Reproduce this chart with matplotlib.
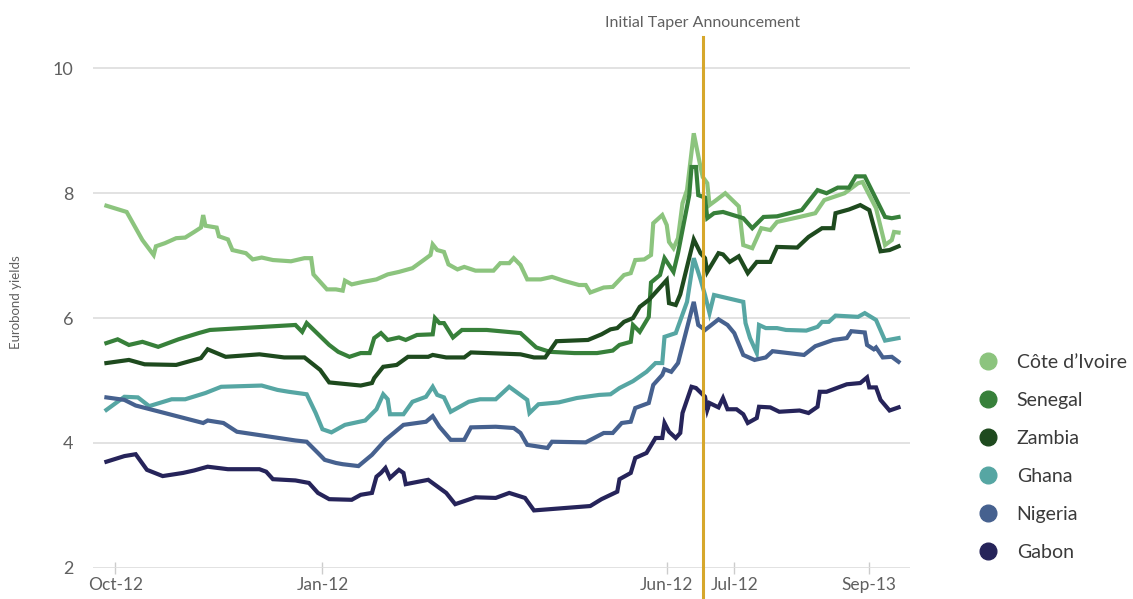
import numpy as np
import pandas as pd
import matplotlib
matplotlib.use('Agg')
import matplotlib.pyplot as plt
from matplotlib.lines import Line2D

plt.rcParams['font.family'] = ['Lato', 'DejaVu Sans']

start = pd.Timestamp('2012-10-01')   # days below are counted from here
taper_day = pd.Timestamp('2013-06-19')

tick_dates = ['2012-10-01', '2013-01-01', '2013-06-03', '2013-07-03', '2013-09-01']
tick_labels = ['Oct-12', 'Jan-12', 'Jun-12', 'Jul-12', 'Sep-13']

countries = ["Côte d’Ivoire", 'Senegal', 'Zambia', 'Ghana', 'Nigeria', 'Gabon']
colors = ['#8cc47e', '#37803a', '#1e4a1e', '#56a6a3', '#46618f', '#26245a']

# Eurobond yields (%) per country: day offsets and values
cote_days = [-4, 5, 12, 17, 18, 22, 27, 31, 35, 38, 39, 40, 45, 46, 50, 52, 58, 61, 65, 70,
             78, 84, 87, 88, 94, 98, 101, 102, 105, 110, 116, 121, 126, 132, 137, 140, 141,
             143, 146, 148, 152, 155, 160, 168, 171, 175, 177, 180, 183, 189, 194, 199, 206,
             209, 211, 214, 217, 221, 226, 229, 231, 235, 238, 239, 243, 245, 246, 248, 250,
             252, 254, 257, 260, 261, 263, 264, 267, 271, 277, 279, 283, 287, 291, 294, 304,
             311, 315, 324, 330, 332, 338, 342, 345, 346, 348]
cote_vals = [7.80, 7.70, 7.25, 7.01, 7.15, 7.20, 7.28, 7.29, 7.38, 7.45, 7.65, 7.48, 7.45, 7.31,
             7.26, 7.09, 7.04, 6.94, 6.97, 6.93, 6.91, 6.96, 6.96, 6.70, 6.46, 6.46, 6.44, 6.60,
             6.54, 6.58, 6.62, 6.70, 6.74, 6.80, 6.93, 7.01, 7.18, 7.09, 7.06, 6.86, 6.78, 6.82,
             6.76, 6.76, 6.88, 6.88, 6.96, 6.85, 6.62, 6.62, 6.66, 6.60, 6.53, 6.53, 6.41, 6.45,
             6.49, 6.50, 6.69, 6.72, 6.93, 6.94, 7.01, 7.52, 7.65, 7.49, 7.22, 7.12, 7.28, 7.84,
             8.05, 8.96, 8.42, 8.26, 8.16, 7.81, 7.89, 8.00, 7.79, 7.17, 7.12, 7.44, 7.41, 7.54,
             7.62, 7.68, 7.89, 8.00, 8.16, 8.18, 7.76, 7.17, 7.25, 7.38, 7.37]

senegal_days = [-4, 1, 6, 12, 19, 28, 37, 42, 80, 83, 85, 95, 99, 104, 109, 113, 115, 118,
                121, 126, 129, 134, 141, 142, 144, 146, 150, 154, 165, 180, 187, 193, 204, 214,
                221, 224, 229, 230, 233, 237, 238, 242, 244, 248, 250, 255, 256, 258, 259, 262,
                263, 266, 270, 279, 283, 288, 294, 305, 312, 316, 321, 326, 329, 333, 342, 345,
                348]
senegal_vals = [5.60, 5.66, 5.57, 5.62, 5.54, 5.66, 5.76, 5.81, 5.89, 5.78, 5.92, 5.57, 5.46,
                5.38, 5.44, 5.44, 5.68, 5.76, 5.65, 5.69, 5.65, 5.73, 5.74, 6.00, 5.92, 5.92,
                5.69, 5.81, 5.81, 5.76, 5.53, 5.46, 5.44, 5.44, 5.48, 5.57, 5.62, 5.89, 5.78,
                6.02, 6.57, 6.69, 6.96, 6.74, 7.04, 7.97, 8.42, 8.42, 7.97, 7.93, 7.60, 7.68,
                7.70, 7.60, 7.44, 7.62, 7.63, 7.73, 8.05, 8.00, 8.09, 8.09, 8.27, 8.27, 7.62,
                7.60, 7.62]

zambia_days = [-4, 6, 13, 27, 38, 41, 49, 64, 75, 84, 91, 95, 109, 114, 115, 119, 125, 130,
               139, 141, 147, 155, 158, 180, 186, 191, 196, 210, 216, 220, 223, 226, 230, 233,
               237, 245, 246, 249, 251, 257, 260, 262, 263, 268, 270, 273, 277, 281, 285, 291,
               294, 303, 308, 314, 319, 320, 326, 331, 335, 340, 344, 348]
zambia_vals = [5.28, 5.33, 5.26, 5.25, 5.36, 5.50, 5.38, 5.42, 5.37, 5.37, 5.17, 4.97, 4.92,
               4.96, 5.04, 5.22, 5.25, 5.38, 5.38, 5.41, 5.37, 5.37, 5.45, 5.42, 5.37, 5.37,
               5.63, 5.65, 5.74, 5.82, 5.84, 5.94, 6.00, 6.18, 6.29, 6.61, 6.24, 6.21, 6.38,
               7.26, 7.04, 6.96, 6.74, 7.04, 7.02, 6.90, 6.99, 6.72, 6.90, 6.90, 7.14, 7.13,
               7.30, 7.44, 7.44, 7.68, 7.74, 7.81, 7.73, 7.07, 7.09, 7.15]

ghana_days = [-4, 4, 10, 15, 25, 31, 40, 47, 65, 72, 77, 85, 89, 92, 96, 102, 111, 116, 119,
              121, 122, 128, 132, 138, 141, 143, 146, 149, 157, 162, 169, 175, 183, 184, 188,
              197, 205, 215, 220, 224, 230, 236, 240, 243, 244, 249, 254, 257, 260, 262, 264,
              266, 279, 280, 282, 285, 286, 289, 294, 298, 307, 312, 314, 317, 320, 330, 333,
              338, 342, 348]
ghana_vals = [4.53, 4.74, 4.73, 4.59, 4.70, 4.70, 4.80, 4.90, 4.92, 4.85, 4.82, 4.78, 4.48,
              4.22, 4.17, 4.29, 4.36, 4.54, 4.78, 4.70, 4.46, 4.46, 4.66, 4.74, 4.90, 4.77,
              4.73, 4.50, 4.66, 4.70, 4.70, 4.90, 4.69, 4.48, 4.62, 4.65, 4.72, 4.77, 4.78,
              4.88, 4.99, 5.14, 5.28, 5.28, 5.70, 5.76, 6.26, 6.96, 6.62, 6.37, 6.08, 6.37,
              6.26, 5.92, 5.68, 5.44, 5.89, 5.84, 5.84, 5.81, 5.80, 5.86, 5.94, 5.94, 6.04,
              6.02, 6.08, 5.97, 5.64, 5.68]

nigeria_days = [-4, 4, 9, 39, 41, 48, 54, 80, 85, 90, 93, 98, 101, 108, 114, 120, 128, 138,
                141, 144, 149, 155, 158, 169, 177, 180, 183, 192, 194, 209, 217, 221, 225, 229,
                231, 237, 239, 243, 244, 247, 250, 257, 259, 262, 268, 272, 275, 279, 284, 289,
                292, 306, 311, 319, 325, 327, 333, 334, 337, 338, 341, 345, 348]
nigeria_vals = [4.73, 4.69, 4.60, 4.32, 4.36, 4.32, 4.18, 4.04, 4.02, 3.84, 3.73, 3.68, 3.66,
                3.63, 3.81, 4.05, 4.29, 4.34, 4.43, 4.26, 4.05, 4.05, 4.25, 4.26, 4.24, 4.16,
                3.97, 3.92, 4.02, 4.01, 4.16, 4.16, 4.32, 4.34, 4.56, 4.64, 4.93, 5.09, 5.18,
                5.14, 5.28, 6.26, 5.89, 5.81, 5.98, 5.89, 5.76, 5.41, 5.33, 5.37, 5.47, 5.41,
                5.55, 5.65, 5.68, 5.79, 5.77, 5.57, 5.50, 5.53, 5.37, 5.38, 5.30]

gabon_days = [-4, 4, 9, 14, 21, 30, 35, 41, 50, 64, 67, 70, 80, 86, 90, 95, 105, 109, 114,
              116, 118, 120, 122, 126, 128, 129, 139, 147, 151, 160, 169, 175, 182, 186, 211,
              216, 223, 224, 229, 231, 236, 240, 243, 244, 246, 249, 251, 252, 256, 258, 262,
              263, 264, 268, 270, 272, 276, 279, 281, 285, 286, 291, 295, 304, 308, 312, 313,
              316, 325, 331, 334, 335, 338, 340, 344, 348]
gabon_vals = [3.70, 3.79, 3.82, 3.57, 3.47, 3.52, 3.56, 3.62, 3.58, 3.58, 3.54, 3.42, 3.40,
              3.36, 3.20, 3.10, 3.09, 3.17, 3.20, 3.46, 3.52, 3.60, 3.44, 3.57, 3.52, 3.34,
              3.41, 3.20, 3.02, 3.13, 3.12, 3.20, 3.12, 2.92, 2.99, 3.10, 3.22, 3.42, 3.52,
              3.76, 3.84, 4.08, 4.08, 4.32, 4.18, 4.08, 4.16, 4.48, 4.90, 4.88, 4.74, 4.53,
              4.64, 4.57, 4.72, 4.54, 4.54, 4.46, 4.32, 4.40, 4.58, 4.57, 4.50, 4.52, 4.48,
              4.58, 4.82, 4.82, 4.94, 4.96, 5.05, 4.89, 4.89, 4.69, 4.52, 4.57]

series = [(cote_days, cote_vals), (senegal_days, senegal_vals), (zambia_days, zambia_vals),
          (ghana_days, ghana_vals), (nigeria_days, nigeria_vals), (gabon_days, gabon_vals)]

grey = '#606060'
fig = plt.figure(figsize=(11.33, 5.99), dpi=100)
ax = fig.add_axes([0.082, 0.052, 0.721, 0.886])

for (days, vals), color in zip(series, colors):
    dates = start + pd.to_timedelta(days, unit='D')
    ax.plot(dates, vals, color=color, lw=3, solid_joinstyle='miter', zorder=3)

ax.axvline(taper_day, ymin=-0.06, ymax=1, color='#d6a72b', lw=2.2, clip_on=False, zorder=4)
ax.text(taper_day, 10.72, 'Initial Taper Announcement', ha='center', va='center',
        fontsize=11.5, color=grey)

ax.set_ylim(2, 10.5)
ax.set_xlim(start - pd.Timedelta(days=10), start + pd.Timedelta(days=353))
ax.set_yticks([2, 4, 6, 8, 10])
ax.set_xticks(pd.to_datetime(tick_dates))
ax.set_xticklabels(tick_labels)
ax.grid(axis='y', color='#dddddd', lw=1.2, zorder=0)
for s in ax.spines.values():
    s.set_visible(False)
ax.tick_params(axis='y', length=0, pad=14, labelsize=13, labelcolor=grey)
ax.tick_params(axis='x', direction='inout', length=9, width=1, color='#cccccc',
               pad=2, labelsize=12.5, labelcolor=grey)
ax.set_ylabel('Eurobond yields', fontsize=9.5, color=grey, labelpad=22)

handles = [Line2D([], [], ls='none', marker='o', markersize=12, color=c) for c in colors]
fig.legend(handles, countries, loc='upper left', bbox_to_anchor=(0.863, 0.409),
           frameon=False, fontsize=14, labelcolor='#3a3a3a', handlelength=1,
           handletextpad=1.0, labelspacing=1.08, borderpad=0, borderaxespad=0)

fig.savefig('out.png', dpi=100)
